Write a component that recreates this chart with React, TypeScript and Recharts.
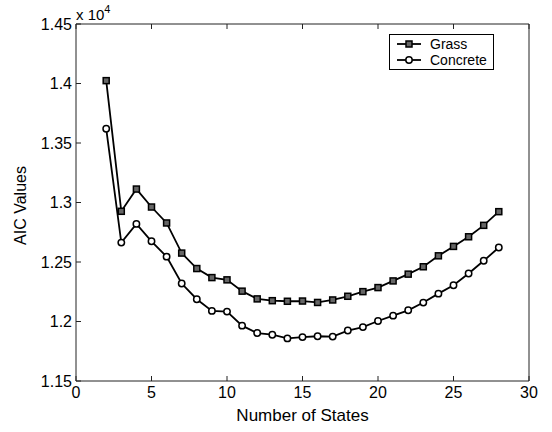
import React from "react";
import { LineChart, Line, XAxis, YAxis, Legend } from "recharts";

const states = [2, 3, 4, 5, 6, 7, 8, 9, 10, 11, 12, 13, 14, 15, 16, 17, 18, 19, 20, 21, 22, 23, 24, 25, 26, 27, 28];
const grass = [14024, 12926, 13113, 12962, 12828, 12575, 12445, 12369, 12350, 12255, 12190, 12175, 12170, 12172, 12160, 12181, 12212, 12251, 12285, 12341, 12398, 12460, 12552, 12631, 12712, 12808, 12923];
const concrete = [13620, 12663, 12820, 12674, 12545, 12319, 12187, 12089, 12083, 11965, 11903, 11889, 11858, 11869, 11876, 11873, 11924, 11953, 12004, 12049, 12094, 12159, 12234, 12305, 12403, 12510, 12622];
const xTicks = [0, 5, 10, 15, 20, 25, 30];
const yTicks = [11500, 12000, 12500, 13000, 13500, 14000, 14500];

const data = states.map((s, i) => ({ n: s, grass: grass[i], concrete: concrete[i] }));

const FONT = "'Liberation Sans', Arial, Helvetica, sans-serif";
const AXIS = "#222";
const TICK_LEN = 5;

const SquareDot = (props: any) => {
  const { cx, cy } = props;
  if (cx == null || cy == null) return null;
  return <rect x={cx - 3} y={cy - 3} width={6} height={6} fill="#666" stroke="#000" strokeWidth={1.5} />;
};

const CircleDot = (props: any) => {
  const { cx, cy } = props;
  if (cx == null || cy == null) return null;
  return <circle cx={cx} cy={cy} r={3.2} fill="#fff" stroke="#000" strokeWidth={1.5} />;
};

// ticks drawn inward, MATLAB style (tickSize 0, so x/y sit on the axis + tickMargin)
const BottomTick = (props: any) => {
  const { x, y, payload } = props;
  const ay = y - 6;
  return (
    <g>
      <line x1={x} y1={ay} x2={x} y2={ay - TICK_LEN} stroke={AXIS} />
      <text x={x} y={y} dy="0.71em" textAnchor="middle" fontFamily={FONT} fontSize={16} fill="#000">
        {payload.value}
      </text>
    </g>
  );
};

const LeftTick = (props: any) => {
  const { x, y, payload } = props;
  const ax = x + 4;
  return (
    <g>
      <line x1={ax} y1={y} x2={ax + TICK_LEN} y2={y} stroke={AXIS} />
      <text x={x} y={y} dy="0.355em" textAnchor="end" fontFamily={FONT} fontSize={16} fill="#000">
        {String(payload.value / 10000)}
      </text>
    </g>
  );
};

const TopTick = (props: any) => {
  const { x, y } = props;
  return <line x1={x} y1={y} x2={x} y2={y + TICK_LEN} stroke={AXIS} />;
};

const RightTick = (props: any) => {
  const { x, y } = props;
  return <line x1={x} y1={y} x2={x - TICK_LEN} y2={y} stroke={AXIS} />;
};

const LegendBox = () => (
  <div style={{ border: "1px solid #000", background: "#fff", width: 103, padding: "1px 0", fontFamily: FONT, fontSize: 14 }}>
    {[
      { name: "Grass", sq: true },
      { name: "Concrete", sq: false },
    ].map((e) => (
      <div key={e.name} style={{ display: "flex", alignItems: "center", height: 16 }}>
        <svg width={40} height={16} style={{ display: "block" }}>
          <line x1={7} y1={8} x2={31} y2={8} stroke="#000" strokeWidth={1.8} />
          {e.sq ? (
            <rect x={16} y={5} width={6} height={6} fill="#666" stroke="#000" strokeWidth={1.5} />
          ) : (
            <circle cx={19} cy={8} r={3.2} fill="#fff" stroke="#000" strokeWidth={1.5} />
          )}
        </svg>
        <span style={{ color: "#000" }}>{e.name}</span>
      </div>
    ))}
  </div>
);

const ExpLabel = (props: any) => {
  const { viewBox } = props;
  return (
    <text x={viewBox.x} y={viewBox.y + viewBox.height - 4} fontFamily={FONT} fontSize={15} fill="#000">
      x 10
      <tspan dy={-7} fontSize={11}>4</tspan>
    </text>
  );
};

const YTitle = (props: any) => {
  const { viewBox } = props;
  const cy = viewBox.y + viewBox.height / 2 + 3;
  return (
    <text x={26} y={cy} transform={`rotate(-90 26 ${cy})`} textAnchor="middle" fontFamily={FONT} fontSize={16} fill="#000">
      AIC Values
    </text>
  );
};

const XTitle = (props: any) => {
  const { viewBox } = props;
  return (
    <text x={viewBox.x + viewBox.width / 2} y={viewBox.y + 40} textAnchor="middle" fontFamily={FONT} fontSize={17} fill="#000">
      Number of States
    </text>
  );
};

export default function App() {
  return (
    <div style={{ position: "absolute", left: 0, top: 0, background: "#fff" }}>
      <LineChart width={552} height={432} data={data} margin={{ top: 0, right: 0, bottom: 0, left: 0 }}>
        <XAxis
          xAxisId="b"
          dataKey="n"
          type="number"
          domain={[0, 30]}
          ticks={xTicks}
          height={51}
          tickSize={0}
          tickMargin={6}
          tick={<BottomTick />}
          stroke={AXIS}
          label={<XTitle />}
        />
        <XAxis
          xAxisId="t"
          orientation="top"
          dataKey="n"
          type="number"
          domain={[0, 30]}
          ticks={xTicks}
          height={24}
          tickSize={0}
          tickMargin={0}
          tick={<TopTick />}
          stroke={AXIS}
          label={<ExpLabel />}
        />
        <YAxis
          yAxisId="l"
          type="number"
          domain={[11500, 14500]}
          ticks={yTicks}
          width={76}
          tickSize={0}
          tickMargin={4}
          tick={<LeftTick />}
          stroke={AXIS}
          label={<YTitle />}
        />
        <YAxis
          yAxisId="r"
          orientation="right"
          type="number"
          domain={[11500, 14500]}
          ticks={yTicks}
          width={23}
          tickSize={0}
          tickMargin={0}
          tick={<RightTick />}
          stroke={AXIS}
        />
        <Legend
          layout="vertical"
          align="center"
          verticalAlign="middle"
          content={<LegendBox />}
          wrapperStyle={{ left: 389, top: 34, width: 105 }}
        />
        <Line
          xAxisId="b"
          yAxisId="l"
          dataKey="grass"
          name="Grass"
          stroke="#000"
          strokeWidth={1.8}
          dot={<SquareDot />}
          isAnimationActive={false}
        />
        <Line
          xAxisId="b"
          yAxisId="l"
          dataKey="concrete"
          name="Concrete"
          stroke="#000"
          strokeWidth={1.8}
          dot={<CircleDot />}
          isAnimationActive={false}
        />
      </LineChart>
    </div>
  );
}
